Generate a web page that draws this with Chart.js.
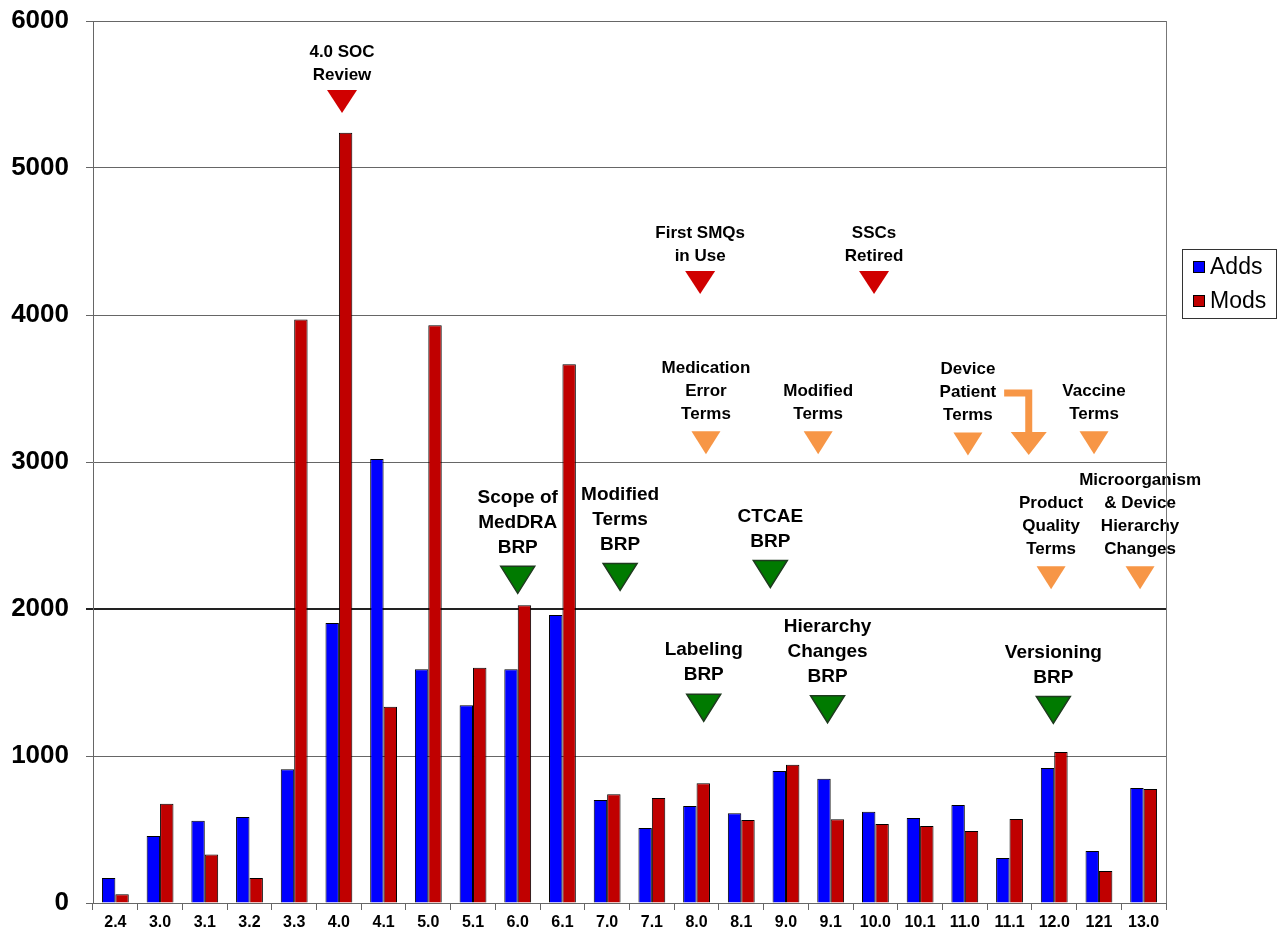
<!DOCTYPE html>
<html>
<head>
<meta charset="utf-8">
<script src="https://cdn.jsdelivr.net/npm/chart.js@4.4.1/dist/chart.umd.min.js"></script>
<style>
  html, body { margin: 0; padding: 0; background: #fff; }
  #wrap { width: 1278px; height: 939px; position: relative; }
</style>
</head>
<body>
<div id="wrap"><canvas id="chart"></canvas></div>
<script>
// MedDRA versions and counts
const versions = ['2.4', '3.0', '3.1', '3.2', '3.3', '4.0', '4.1', '5.0', '5.1', '6.0', '6.1', '7.0',
                  '7.1', '8.0', '8.1', '9.0', '9.1', '10.0', '10.1', '11.0', '11.1', '12.0', '121', '13.0'];
const adds = [170, 455, 560, 585, 910, 1905, 3020, 1590, 1345, 1590, 1960, 700,
              510, 660, 610, 898, 845, 620, 578, 667, 306, 918, 354, 782];
const mods = [60, 675, 330, 170, 3970, 5240, 1335, 3930, 1600, 2025, 3665, 740,
              715, 815, 565, 940, 570, 537, 524, 490, 571, 1028, 218, 775];

// milestones: text, position on the version axis, value at the marker top, kind
const noteTexts = ['4.0 SOC\nReview', 'First SMQs\nin Use', 'SSCs\nRetired',
                   'Medication\nError\nTerms', 'Modified\nTerms', 'Device\nPatient\nTerms', 'Vaccine\nTerms',
                   'Scope of\nMedDRA\nBRP', 'Modified\nTerms\nBRP', 'CTCAE\nBRP',
                   'Product\nQuality\nTerms', 'Microorganism\n& Device\nHierarchy\nChanges',
                   'Labeling\nBRP', 'Hierarchy\nChanges\nBRP', 'Versioning\nBRP'];
const notePos = [5.07, 13.08, 16.97, 13.21, 15.72, 19.07, 21.89,
                 9.0, 11.29, 14.65, 20.93, 22.92, 13.16, 15.93, 20.98];
const noteValues = [5530, 4300, 4300, 3210, 3210, 3200, 3210,
                    2290, 2310, 2330, 2290, 2290, 1420, 1410, 1405];
const noteKinds = ['red', 'red', 'red', 'orange', 'orange', 'orange', 'orange',
                   'green', 'green', 'green', 'orange', 'orange', 'green', 'green', 'green'];
// bent arrow from "Device Patient Terms" over to 12.0
const bendPos = [19.88, 20.43];
const bendValues = [3470, 3204];

const kindStyles = {
  red:    { fill: '#D00000', stroke: null, w: 30, h: 23, size: 17, line: 23, gap: 15 },
  orange: { fill: '#F79646', stroke: null, w: 29, h: 23, size: 17, line: 23, gap: 17 },
  green:  { fill: '#007A00', stroke: '#1E3B1E', w: 34, h: 27, size: 19, line: 25, gap: 19 }
};
const FONT = '"Liberation Sans", Arial, sans-serif';

const milestones = {
  id: 'milestones',
  afterDatasetsDraw(chart) {
    const { ctx, scales: { x, y } } = chart;
    ctx.save();
    noteTexts.forEach((text, i) => {
      const st = kindStyles[noteKinds[i]];
      const cx = x.getPixelForValue(notePos[i]);
      const top = y.getPixelForValue(noteValues[i]);
      ctx.beginPath();
      ctx.moveTo(cx - st.w / 2, top);
      ctx.lineTo(cx + st.w / 2, top);
      ctx.lineTo(cx, top + st.h);
      ctx.closePath();
      ctx.fillStyle = st.fill;
      ctx.fill();
      if (st.stroke) {
        ctx.lineWidth = 1.5;
        ctx.strokeStyle = st.stroke;
        ctx.stroke();
      }
      const lines = text.split('\n');
      ctx.font = 'bold ' + st.size + 'px ' + FONT;
      ctx.fillStyle = '#000';
      ctx.textAlign = 'center';
      ctx.textBaseline = 'middle';
      lines.forEach((ln, k) => {
        ctx.fillText(ln, cx, top - st.gap - (lines.length - 1 - k) * st.line);
      });
    });

    // bent orange arrow
    const x0 = x.getPixelForValue(bendPos[0]);
    const x1 = x.getPixelForValue(bendPos[1]);
    const y0 = y.getPixelForValue(bendValues[0]);
    const y1 = y.getPixelForValue(bendValues[1]);
    ctx.strokeStyle = '#F79646';
    ctx.lineWidth = 7;
    ctx.lineJoin = 'miter';
    ctx.beginPath();
    ctx.moveTo(x0, y0);
    ctx.lineTo(x1, y0);
    ctx.lineTo(x1, y1 + 1);
    ctx.stroke();
    ctx.fillStyle = '#F79646';
    ctx.beginPath();
    ctx.moveTo(x1 - 18, y1);
    ctx.lineTo(x1 + 18, y1);
    ctx.lineTo(x1, y1 + 23);
    ctx.closePath();
    ctx.fill();
    ctx.restore();
  },
  afterDraw(chart) {
    const { ctx, chartArea } = chart;
    ctx.save();
    // right frame line
    ctx.strokeStyle = '#777';
    ctx.lineWidth = 1;
    ctx.beginPath();
    ctx.moveTo(chartArea.right + 0.5, chartArea.top);
    ctx.lineTo(chartArea.right + 0.5, chartArea.bottom);
    ctx.stroke();

    // legend box
    const bx = chartArea.right + 16, by = 249, bw = 94, bh = 69;
    ctx.strokeStyle = '#333';
    ctx.strokeRect(bx + 0.5, by + 0.5, bw, bh);
    ctx.font = '23px ' + FONT;
    ctx.textBaseline = 'middle';
    ctx.textAlign = 'left';
    chart.data.datasets.forEach((ds, i) => {
      const cy = by + 18 + i * 34;
      ctx.fillStyle = ds.backgroundColor;
      ctx.fillRect(bx + 11, cy - 6, 12, 12);
      ctx.strokeStyle = '#000';
      ctx.strokeRect(bx + 11.5, cy - 5.5, 11, 11);
      ctx.fillStyle = '#000';
      ctx.fillText(ds.label, bx + 28, cy + 1);
    });
    ctx.restore();
  }
};

new Chart(document.getElementById('chart'), {
  type: 'bar',
  data: {
    labels: versions,
    datasets: [
      { label: 'Adds', data: adds, backgroundColor: '#0000FF', borderColor: '#000', borderWidth: 1 },
      { label: 'Mods', data: mods, backgroundColor: '#C00000', borderColor: '#000', borderWidth: 1 }
    ]
  },
  options: {
    responsive: true,
    maintainAspectRatio: false,
    animation: false,
    events: [],
    layout: { padding: { top: 21, right: 112, bottom: 0, left: 0 } },
    datasets: { bar: { categoryPercentage: 0.6, barPercentage: 1.0 } },
    plugins: { legend: { display: false }, tooltip: { enabled: false } },
    scales: {
      x: {
        offset: true,
        grid: { display: true, drawOnChartArea: false, offset: true, tickLength: 7, color: '#666' },
        border: { display: true, color: '#666' },
        ticks: { color: '#000', font: { family: FONT, size: 16, weight: 'bold' }, padding: 3, maxRotation: 0, autoSkip: false },
        afterFit(scale) { scale.height = 36; }
      },
      y: {
        min: 0,
        max: 6000,
        ticks: {
          stepSize: 1000,
          color: '#000',
          font: { family: FONT, size: 26, weight: 'bold' },
          padding: 17,
          callback: (v) => String(v)
        },
        grid: {
          tickLength: 7,
          color: (c) => c.tick && c.tick.value === 2000 ? '#222' : '#666',
          lineWidth: (c) => c.tick && c.tick.value === 2000 ? 2 : 1
        },
        border: { display: true, color: '#666' },
        afterFit(scale) {
          scale.width = 93;
          scale.paddingTop = 0;
          scale.paddingBottom = 0;
        }
      }
    }
  },
  plugins: [milestones]
});
</script>
</body>
</html>
